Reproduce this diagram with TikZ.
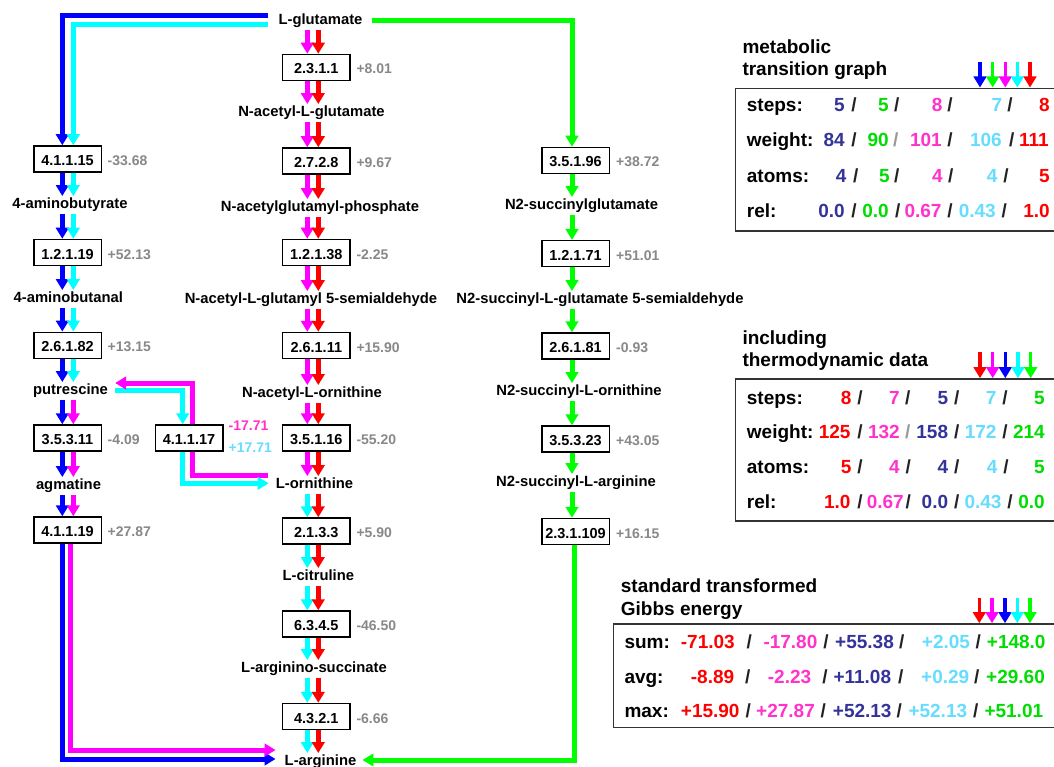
\documentclass[tikz,border=0pt]{standalone}
\usepackage{fontspec}
\setmainfont{Liberation Sans}
\usetikzlibrary{arrows.meta}

% path colours
\definecolor{cB}{HTML}{0000FF}
\definecolor{cC}{HTML}{00FFFF}
\definecolor{cM}{HTML}{FF00FF}
\definecolor{cR}{HTML}{FF0000}
\definecolor{cG}{HTML}{00FF00}
% table text colours
\definecolor{tIndigo}{HTML}{333399}
\definecolor{tGreen}{HTML}{00DD00}
\definecolor{tPink}{HTML}{FF33CC}
\definecolor{tLBlue}{HTML}{66DDFF}
\definecolor{tRed}{HTML}{FF0000}
\definecolor{tGrey}{HTML}{999999}
\definecolor{gibbsGrey}{HTML}{888888}
\definecolor{slashInk}{HTML}{222222}
\definecolor{frameInk}{HTML}{333333}

% two parallel reaction arrows between two nodes
\newcommand\flowpair[6]{%
  \draw[flow,#3] (#1.south -| #5) -- (#2.north -| #5);
  \draw[flow,#4] (#1.south -| #6) -- (#2.north -| #6);}
\newcommand\flowone[4]{\draw[flow,#3] (#1.south -| #4) -- (#2.north -| #4);}
% table rows: right-aligned values, left-aligned values, slashes
\newcommand\valrow[3]{\foreach \xx/\cc/\vv [count=\ii] in {#3}
  {\node[tval, text=\cc, anchor=base east] (#1-\ii) at (\xx,#2) {\vv};}}
\newcommand\valrowL[3]{\foreach \xx/\cc/\vv [count=\ii] in {#3}
  {\node[tval, text=\cc, anchor=base west] (#1-\ii) at (\xx,#2) {\vv};}}
\newcommand\slashrow[3]{\foreach \xx/\cc [count=\ii] in {#3}
  {\node[tval, text=\cc, anchor=base] (#1-\ii) at (\xx,#2) {/};}}

\begin{document}
\begin{tikzpicture}[x=1pt,y=-1pt,
  met/.style={font=\fontsize{14.8}{16}\selectfont\bfseries, inner sep=2pt, text height=10.5pt, text depth=3pt},
  enz/.style={draw=black, line width=1.5pt, fill=white, font=\fontsize{14.5}{16}\selectfont\bfseries,
              minimum width=67.5pt, minimum height=26pt, inner sep=0pt, text height=13pt, text depth=0pt},
  gibbs/.style={font=\fontsize{14}{16}\selectfont\bfseries, text=gibbsGrey, inner sep=0pt, anchor=base west},
  flow/.style={line width=5pt, -{Triangle[width=12.5pt,length=11pt]}},
  link/.style={line width=5pt},
  legarr/.style={line width=3.5pt, -{Triangle[width=12.5pt,length=11pt]}},
  tval/.style={font=\fontsize{19}{22}\selectfont\bfseries, inner sep=0pt},
  tlab/.style={tval, anchor=base west},
  frame/.style={draw=frameInk, line width=1.5pt}]

\fill[white] (0,0) rectangle (1054,767);
\useasboundingbox (0,0) rectangle (1054,767);

% x positions of the arrow lanes
\coordinate (xA1) at (62.3,0);
\coordinate (xB1) at (73.3,0);
\coordinate (xM1low) at (70.7,0);
\coordinate (xA2) at (307.3,0);
\coordinate (xB2) at (318.3,0);
\coordinate (xG3) at (572,0);
\coordinate (xG3low) at (574.5,0);
\coordinate (xC4) at (182.7,0);
\coordinate (xM4) at (192.7,0);

% ---------- left column: GABA / putrescine route ----------
\node[enz] (e41115) at (67.5,159) {4.1.1.15};
\node[met] (mAbut) at (70,205) {4-aminobutyrate};
\node[enz] (e12119) at (67.5,252.5) {1.2.1.19};
\node[met] (mAbal) at (68.3,299) {4-aminobutanal};
\node[enz] (e26182) at (67.5,345.3) {2.6.1.82};
\node[met] (mPut) at (70.5,391) {putrescine};
\node[enz] (e35311) at (67.5,438) {3.5.3.11};
\node[met] (mAgm) at (68.5,486) {agmatine};
\node[enz] (e41119) at (67.5,530) {4.1.1.19};

% ---------- middle column: acetyl route ----------
\node[met] (mGlu) at (320.5,21) {L-glutamate};
\node[enz] (e2311) at (316.3,67.5) {2.3.1.1};
\node[met] (mNAG) at (311.5,113) {N-acetyl-L-glutamate};
\node[enz] (e2728) at (316.3,161) {2.7.2.8};
\node[met] (mNAGP) at (320,208) {N-acetylglutamyl-phosphate};
\node[enz] (e12138) at (316.3,252.5) {1.2.1.38};
\node[met] (mNAGSA) at (311,300) {N-acetyl-L-glutamyl 5-semialdehyde};
\node[enz] (e26111) at (316.3,345.5) {2.6.1.11};
\node[met] (mNAO) at (312,394) {N-acetyl-L-ornithine};
\node[enz] (e35116) at (316.3,438) {3.5.1.16};
\node[met] (mOrn) at (314.5,485) {L-ornithine};
\node[enz] (e2133) at (316.3,531) {2.1.3.3};
\node[met] (mCit) at (318.3,577) {L-citruline};
\node[enz] (e6345) at (316.3,624) {6.3.4.5};
\node[met] (mArgSuc) at (314,669) {L-arginino-succinate};
\node[enz] (e4321) at (316.3,716.5) {4.3.2.1};
\node[met] (mArg) at (320.5,762) {L-arginine};

% ---------- right column: succinyl route ----------
\node[enz] (e35196) at (575.5,160.5) {3.5.1.96};
\node[met] (mNSG) at (581.5,206) {N2-succinylglutamate};
\node[enz] (e12171) at (575.5,253.7) {1.2.1.71};
\node[met] (mNSGSA) at (600,300) {N2-succinyl-L-glutamate 5-semialdehyde};
\node[enz] (e26181) at (575.5,346) {2.6.1.81};
\node[met] (mNSO) at (579,392) {N2-succinyl-L-ornithine};
\node[enz] (e35323) at (575.5,439) {3.5.3.23};
\node[met] (mNSA) at (576,483) {N2-succinyl-L-arginine};
\node[enz] (e231109) at (575.5,531.5) {2.3.1.109};

% ornithine decarboxylase, run both ways
\node[enz] (e41117) at (189,438) {4.1.1.17};

% ---------- Gibbs energies of the reactions ----------
\node[gibbs] (g41115) at ([xshift=5.5pt]e41115.base east) {-33.68};
\node[gibbs] (g12119) at ([xshift=5.5pt]e12119.base east) {+52.13};
\node[gibbs] (g26182) at ([xshift=5.5pt]e26182.base east) {+13.15};
\node[gibbs] (g35311) at ([xshift=5.5pt]e35311.base east) {-4.09};
\node[gibbs] (g41119) at ([xshift=5.5pt]e41119.base east) {+27.87};
\node[gibbs] (g2311) at ([xshift=5.5pt]e2311.base east) {+8.01};
\node[gibbs] (g2728) at ([xshift=5.5pt]e2728.base east) {+9.67};
\node[gibbs] (g12138) at ([xshift=5.5pt]e12138.base east) {-2.25};
\node[gibbs] (g26111) at ([xshift=5.5pt]e26111.base east) {+15.90};
\node[gibbs] (g35116) at ([xshift=5.5pt]e35116.base east) {-55.20};
\node[gibbs] (g2133) at ([xshift=5.5pt]e2133.base east) {+5.90};
\node[gibbs] (g6345) at ([xshift=5.5pt]e6345.base east) {-46.50};
\node[gibbs] (g4321) at ([xshift=5.5pt]e4321.base east) {-6.66};
\node[gibbs] (g35196) at ([xshift=6pt]e35196.base east) {+38.72};
\node[gibbs] (g12171) at ([xshift=6pt]e12171.base east) {+51.01};
\node[gibbs] (g26181) at ([xshift=6pt]e26181.base east) {-0.93};
\node[gibbs] (g35323) at ([xshift=6pt]e35323.base east) {+43.05};
\node[gibbs] (g231109) at ([xshift=6pt]e231109.base east) {+16.15};
\node[gibbs, text=tPink] (g41117f) at ([shift={(5pt,14.3pt)}]e41117.base east) {-17.71};
\node[gibbs, text=tLBlue] (g41117r) at ([shift={(5pt,-8pt)}]e41117.base east) {+17.71};

% ---------- reaction arrows ----------
\flowpair{e41115}{mAbut}{cB}{cC}{xA1}{xB1}
\flowpair{mAbut}{e12119}{cB}{cC}{xA1}{xB1}
\flowpair{e12119}{mAbal}{cB}{cC}{xA1}{xB1}
\flowpair{mAbal}{e26182}{cB}{cC}{xA1}{xB1}
\flowpair{e26182}{mPut}{cB}{cC}{xA1}{xB1}
\flowpair{mPut}{e35311}{cB}{cM}{xA1}{xB1}
\flowpair{e35311}{mAgm}{cB}{cM}{xA1}{xB1}
\flowpair{mAgm}{e41119}{cB}{cM}{xA1}{xB1}

\flowpair{mGlu}{e2311}{cM}{cR}{xA2}{xB2}
\flowpair{e2311}{mNAG}{cM}{cR}{xA2}{xB2}
\flowpair{mNAG}{e2728}{cM}{cR}{xA2}{xB2}
\flowpair{e2728}{mNAGP}{cM}{cR}{xA2}{xB2}
\flowpair{mNAGP}{e12138}{cM}{cR}{xA2}{xB2}
\flowpair{e12138}{mNAGSA}{cM}{cR}{xA2}{xB2}
\flowpair{mNAGSA}{e26111}{cM}{cR}{xA2}{xB2}
\flowpair{e26111}{mNAO}{cM}{cR}{xA2}{xB2}
\flowpair{mNAO}{e35116}{cM}{cR}{xA2}{xB2}
\flowpair{e35116}{mOrn}{cM}{cR}{xA2}{xB2}
\flowpair{mOrn}{e2133}{cC}{cR}{xA2}{xB2}
\flowpair{e2133}{mCit}{cC}{cR}{xA2}{xB2}
\flowpair{mCit}{e6345}{cC}{cR}{xA2}{xB2}
\flowpair{e6345}{mArgSuc}{cC}{cR}{xA2}{xB2}
\flowpair{mArgSuc}{e4321}{cC}{cR}{xA2}{xB2}
\flowpair{e4321}{mArg}{cC}{cR}{xA2}{xB2}

\flowone{e35196}{mNSG}{cG}{xG3}
\flowone{mNSG}{e12171}{cG}{xG3}
\flowone{e12171}{mNSGSA}{cG}{xG3}
\flowone{mNSGSA}{e26181}{cG}{xG3}
\flowone{e26181}{mNSO}{cG}{xG3}
\flowone{mNSO}{e35323}{cG}{xG3}
\flowone{e35323}{mNSA}{cG}{xG3}
\flowone{mNSA}{e231109}{cG}{xG3}

% long connectors from L-glutamate and into L-arginine
\draw[flow,cB] ([shift={(-8pt,5pt)}]mGlu.west) -| (e41115.north -| xA1);
\draw[flow,cC] ([shift={(-8pt,-3.3pt)}]mGlu.west) -| (e41115.north -| xB1);
\draw[flow,cG] ([xshift=7pt]mGlu.east) -| (e35196.north -| xG3);
\draw[flow,cG] (e231109.south -| xG3low) |- ([shift={(4pt,2pt)}]mArg.east);
\draw[flow,cB] (e41119.south -| xA1) |- ([shift={(-7pt,3pt)}]mArg.west);
\draw[flow,cM] (e41119.south -| xM1low) |- ([shift={(-7pt,12pt)}]mArg.west);

% putrescine <-> L-ornithine through 4.1.1.17
\draw[flow,cC] ([shift={(5pt,1pt)}]mPut.east) -| (e41117.north -| xC4);
\draw[flow,cM] (e41117.north -| xM4) |- ([shift={(5pt,8pt)}]mPut.east);
\draw[link,cM] ([shift={(-5.4pt,10pt)}]mOrn.west) -| (e41117.south -| xM4);
\draw[flow,cC] (e41117.south -| xC4) |- ([shift={(-5pt,1.7pt)}]mOrn.west);

% ---------- table: metabolic transition graph ----------
\node[tlab] (h1a) at (742.3,53.3) {metabolic};
\node[tlab] (h1b) at (742.3,75.7) {transition graph};
\foreach \xx/\cc in {980/cB, 992.7/cG, 1005.3/cM, 1017.3/cC, 1030/cR}
  \draw[legarr,\cc] (\xx,62) -- (\xx,87.5);
\draw[frame] (735.7,88.3) rectangle (1070,231);
\node[tlab] (t1a) at (746.7,112) {steps:};
\node[tlab] (t1b) at (746.7,147) {weight:};
\node[tlab] (t1c) at (746.7,182.5) {atoms:};
\node[tlab] (t1d) at (746.7,218) {rel:};
\valrow{t1sv}{112}{845/tIndigo/5, 889/tGreen/5, 942.7/tPink/8, 1002.3/tLBlue/7, 1050/tRed/8}
\slashrow{t1ss}{112}{854/slashInk, 896.7/slashInk, 950/slashInk, 1010/slashInk}
\valrow{t1wv}{147}{845/tIndigo/84, 889/tGreen/90, 942/tPink/101, 1002/tLBlue/106, 1049/tRed/111}
\slashrow{t1ws}{147}{854/slashInk, 895.7/tGrey, 950/slashInk, 1011.7/slashInk}
\valrow{t1av}{182.5}{846.7/tIndigo/4, 890/tGreen/5, 943/tPink/4, 997.7/tLBlue/4, 1050/tRed/5}
\slashrow{t1as}{182.5}{855.7/slashInk, 896.7/slashInk, 950.7/slashInk, 1006/slashInk}
\valrow{t1rv}{218}{845/tIndigo/0.0, 889/tGreen/0.0, 941.7/tPink/0.67, 996/tLBlue/0.43, 1050/tRed/1.0}
\slashrow{t1rs}{218}{854/slashInk, 897.7/slashInk, 950/slashInk, 1004.3/slashInk}

% ---------- table: including thermodynamic data ----------
\node[tlab] (h2a) at (742.3,344) {including};
\node[tlab] (h2b) at (742.3,366.5) {thermodynamic data};
\foreach \xx/\cc in {980/cR, 992.7/cM, 1005.3/cB, 1018/cC, 1030.7/cG}
  \draw[legarr,\cc] (\xx,352) -- (\xx,378.2);
\draw[frame] (735.7,379) rectangle (1070,521);
\node[tlab] (t2a) at (746.7,404) {steps:};
\node[tlab] (t2b) at (746.7,438.5) {weight:};
\node[tlab] (t2c) at (746.7,473.5) {atoms:};
\node[tlab] (t2d) at (746.7,508) {rel:};
\valrow{t2sv}{404}{851.7/tRed/8, 900/tPink/7, 948.3/tIndigo/5, 996.7/tLBlue/7, 1045/tGreen/5}
\slashrow{t2ss}{404}{860/slashInk, 907.7/slashInk, 956.7/slashInk, 1005/slashInk}
\valrow{t2wv}{438.5}{850.7/tRed/125, 900/tPink/132, 948.3/tIndigo/158, 996.7/tLBlue/172, 1045/tGreen/214}
\slashrow{t2ws}{438.5}{860/slashInk, 907.7/tGrey, 956.7/slashInk, 1005/slashInk}
\valrow{t2av}{473.5}{851.7/tRed/5, 900/tPink/4, 948.3/tIndigo/4, 997.7/tLBlue/4, 1045/tGreen/5}
\slashrow{t2as}{473.5}{860/slashInk, 908.3/slashInk, 956.7/slashInk, 1006/slashInk}
\valrow{t2rv}{508}{850.7/tRed/1.0, 904/tPink/0.67, 948.3/tIndigo/0.0, 1001.7/tLBlue/0.43, 1045/tGreen/0.0}
\slashrow{t2rs}{508}{860/slashInk, 908.3/slashInk, 956.7/slashInk, 1010/slashInk}

% ---------- table: standard transformed Gibbs energy ----------
\node[tlab] (h3a) at (620.7,592) {standard transformed};
\node[tlab] (h3b) at (620.7,615.5) {Gibbs energy};
\foreach \xx/\cc in {979.3/cR, 992/cM, 1005/cB, 1017.3/cC, 1030/cG}
  \draw[legarr,\cc] (\xx,598) -- (\xx,623.2);
\draw[frame] (613.3,624) rectangle (1070,727.7);
\node[tlab] (t3a) at (624.3,648.5) {sum:};
\node[tlab] (t3b) at (624.3,683) {avg:};
\node[tlab] (t3c) at (624.3,717) {max:};
\valrowL{t3sv}{648.5}{680.7/tRed/-71.03, 763.3/tPink/-17.80, 835/tIndigo/+55.38, 921.7/tLBlue/+2.05, 986.7/tGreen/+148.0}
\slashrow{t3ss}{648.5}{749.3/slashInk, 826/slashInk, 901.7/slashInk, 978.3/slashInk}
\valrowL{t3av}{683}{690.7/tRed/-8.89, 767.7/tPink/-2.23, 833.3/tIndigo/+11.08, 921/tLBlue/+0.29, 986/tGreen/+29.60}
\slashrow{t3as}{683}{747.7/slashInk, 825/slashInk, 900.7/slashInk, 976.7/slashInk}
\valrowL{t3mv}{717}{680.7/tRed/+15.90, 756/tPink/+27.87, 832.7/tIndigo/+52.13, 908.3/tLBlue/+52.13, 984.3/tGreen/+51.01}
\slashrow{t3ms}{717}{748.3/slashInk, 823.3/slashInk, 899.3/slashInk, 975.7/slashInk}

\end{tikzpicture}
\end{document}
